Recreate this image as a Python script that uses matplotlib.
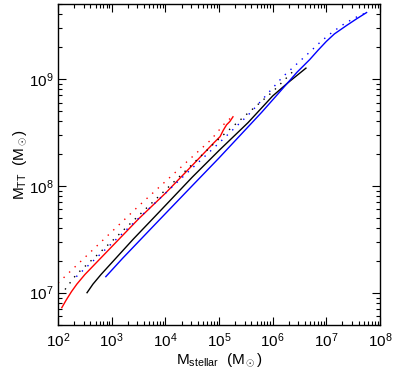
import numpy as np
import matplotlib
matplotlib.use("Agg")
import matplotlib.pyplot as plt
from matplotlib.ticker import LogLocator, NullFormatter

plt.rcParams['font.family'] = ['Liberation Sans', 'DejaVu Sans']
plt.rcParams['mathtext.fontset'] = 'custom'
plt.rcParams['mathtext.rm'] = 'Liberation Sans'
plt.rcParams['mathtext.it'] = 'Liberation Sans:italic'
plt.rcParams['mathtext.bf'] = 'Liberation Sans:bold'

# log10 values
red_solid_x = [2.07, 2.15, 2.25, 2.35, 2.5, 2.75, 3.0, 3.5, 4.0, 4.5, 4.9, 5.02, 5.08, 5.14, 5.2, 5.26]
red_solid_y = [6.86, 6.93, 7.01, 7.08, 7.17, 7.30, 7.43, 7.69, 7.93, 8.19, 8.40, 8.46, 8.52, 8.57, 8.60, 8.645]
red_dot_x = [2.0, 2.5, 3.0, 3.5, 4.0, 4.5, 4.85, 5.0, 5.1, 5.23]
red_dot_y = [7.09, 7.33, 7.57, 7.81, 8.04, 8.27, 8.43, 8.52, 8.58, 8.64]
black_solid_x = [2.54, 2.65, 2.8, 3.0, 3.4, 3.8, 4.5, 5.0, 5.54, 6.0, 6.3, 6.62]
black_solid_y = [7.0, 7.08, 7.17, 7.28, 7.50, 7.71, 8.08, 8.33, 8.59, 8.84, 8.97, 9.10]
black_dot_x = [2.13, 2.34, 3.0, 4.0, 5.0, 5.54, 6.0, 6.38]
black_dot_y = [7.03, 7.17, 7.48, 7.96, 8.44, 8.68, 8.88, 9.07]
blue_solid_x = [2.89, 3.2, 3.81, 4.5, 5.0, 5.54, 5.8, 6.1, 6.45, 6.69, 6.85, 7.0, 7.15, 7.38, 7.56, 7.75]
blue_solid_y = [7.15, 7.32, 7.64, 8.0, 8.26, 8.55, 8.69, 8.86, 9.06, 9.18, 9.27, 9.35, 9.42, 9.50, 9.56, 9.62]
blue_dot_x = [2.34, 3.0, 4.0, 5.0, 5.54, 5.67, 6.19, 6.69, 6.9, 7.12, 7.35, 7.57, 7.75]
blue_dot_y = [7.15, 7.46, 7.93, 8.40, 8.66, 8.73, 9.02, 9.25, 9.35, 9.44, 9.52, 9.58, 9.62]

fig = plt.figure(figsize=(3.95, 3.73), dpi=100)
ax = fig.add_axes([0.147, 0.129, 0.815, 0.860])

dot = (0, (1, 4.5))
series = [
    (red_solid_x, red_solid_y, 'red', '-'),
    (red_dot_x, red_dot_y, 'red', dot),
    (black_solid_x, black_solid_y, 'black', '-'),
    (black_dot_x, black_dot_y, 'black', dot),
    (blue_solid_x, blue_solid_y, 'blue', '-'),
    (blue_dot_x, blue_dot_y, 'blue', dot),
]
for xs, ys, c, ls in series:
    ax.plot(10 ** np.array(xs), 10 ** np.array(ys), color=c, linestyle=ls, lw=1.0)

ax.set_xscale('log')
ax.set_yscale('log')
ax.set_xlim(1e2, 1e8)
ax.set_ylim(5e6, 5e9)
ax.xaxis.set_major_locator(LogLocator(base=10, numticks=20))
ax.xaxis.set_minor_locator(LogLocator(base=10, subs=np.arange(2, 10), numticks=20))
ax.yaxis.set_minor_locator(LogLocator(base=10, subs=np.arange(2, 10), numticks=20))
ax.yaxis.set_minor_formatter(NullFormatter())
for s in ax.spines.values():
    s.set_linewidth(1.0)
ax.tick_params(which='both', direction='in', top=True, right=True, labelsize=11)
ax.tick_params(which='major', length=6, width=0.8)
ax.tick_params(which='minor', length=3, width=0.8)
ax.tick_params(axis='x', pad=5)

ax.set_xlabel(r'M$_{\rm stellar}$  (M$_\odot$)', fontsize=11, labelpad=1)
ax.set_ylabel(r'M$_{\rm TT}$  (M$_\odot$)', fontsize=11, labelpad=0)

fig.savefig('out.png', dpi=100)
